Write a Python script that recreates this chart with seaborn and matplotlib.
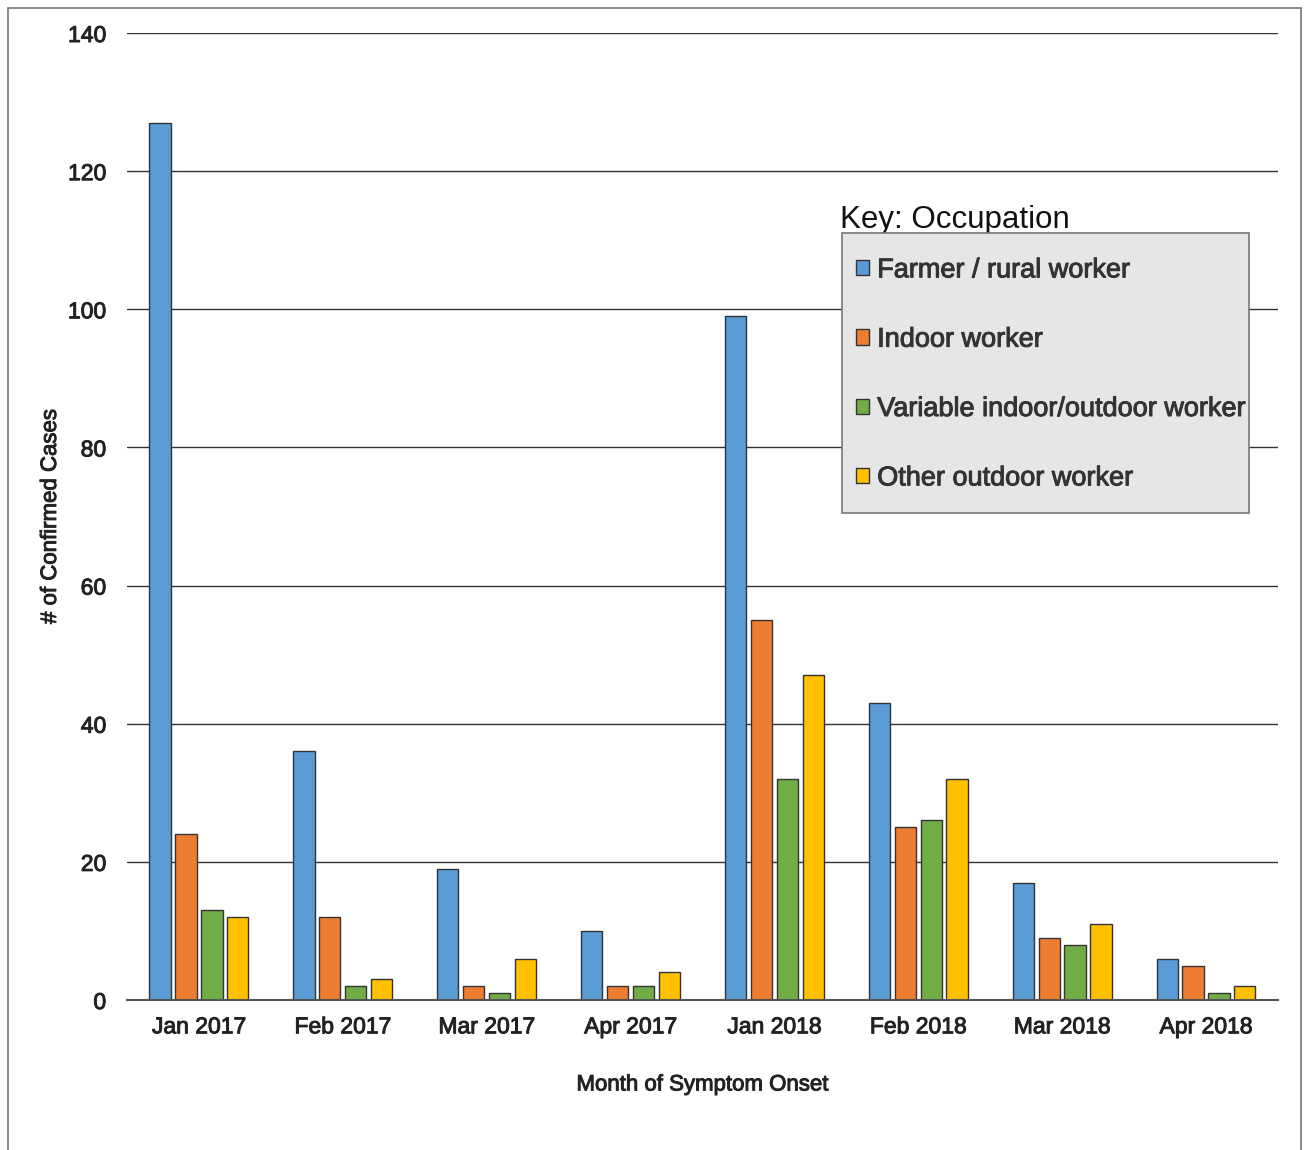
import matplotlib
matplotlib.use("Agg")
import matplotlib.pyplot as plt
import matplotlib.patches as mpatches
import matplotlib.patheffects as pe
import pandas as pd
import seaborn as sns

# data
months = ["Jan 2017", "Feb 2017", "Mar 2017", "Apr 2017",
          "Jan 2018", "Feb 2018", "Mar 2018", "Apr 2018"]
occupations = ["Farmer / rural worker", "Indoor worker",
               "Variable indoor/outdoor worker", "Other outdoor worker"]
farmer = [127, 36, 19, 10, 99, 43, 17, 6]
indoor = [24, 12, 2, 2, 55, 25, 9, 5]
variable = [13, 2, 1, 2, 32, 26, 8, 1]
other_outdoor = [12, 3, 6, 4, 47, 32, 11, 2]
colors = ["#5B9BD5", "#ED7D31", "#70AD47", "#FFC000"]

series = [farmer, indoor, variable, other_outdoor]
rows = []
for occ, vals in zip(occupations, series):
    for m, v in zip(months, vals):
        rows.append({"month": m, "occupation": occ, "cases": v})
df = pd.DataFrame(rows)

sns.set_style("white")
plt.rcParams["font.family"] = ["Liberation Sans", "DejaVu Sans"]

# slightly heavier text, like the reference
heavy = [pe.withStroke(linewidth=0.7, foreground="#222222")]

fig = plt.figure(figsize=(13.04, 11.5), dpi=100)
ax = fig.add_axes([0.0974, 0.1304, 0.8826, 0.8409])

sns.barplot(data=df, x="month", y="cases", hue="occupation", order=months,
            hue_order=occupations, palette=colors, saturation=1, width=0.72,
            gap=0.18, edgecolor="#333333", linewidth=1, ax=ax, legend=True)

ax.set_ylim(0, 140)
ax.set_yticks(range(0, 141, 20))
ax.set_xlim(-0.5, len(months) - 0.5)
ax.yaxis.grid(True, color="#333333", linewidth=1)
ax.set_axisbelow(True)
for s in ["top", "right", "left"]:
    ax.spines[s].set_visible(False)
ax.spines["bottom"].set_color("#555555")
ax.spines["bottom"].set_linewidth(1.5)
ax.tick_params(axis="both", length=0, labelsize=16.5, colors="#222222")
ax.tick_params(axis="x", pad=11)
ax.tick_params(axis="y", pad=15)
for lab in ax.get_xticklabels() + ax.get_yticklabels():
    lab.set_path_effects(heavy)

ax.set_xlabel("Month of Symptom Onset", fontsize=16, color="#222222", labelpad=26,
              path_effects=heavy)
ax.set_ylabel("# of Confirmed Cases", fontsize=16, color="#222222", labelpad=5,
              path_effects=heavy)

# legend box drawn by hand, entries placed inside it
ax.add_patch(mpatches.Rectangle((0.621, 0.5036), 0.3538, 0.2894, transform=ax.transAxes,
                                facecolor="#e6e6e6", edgecolor="#777777", linewidth=1.2,
                                zorder=4))
leg = ax.legend(loc="upper left", bbox_to_anchor=(0.633, 0.768), borderaxespad=0,
                borderpad=0, fontsize=19.5, labelspacing=1.6, handlelength=0.5,
                handleheight=0.5, handletextpad=0.3, frameon=False)
leg.set_zorder(5)
for t in leg.get_texts():
    t.set_color("#333333")
    t.set_path_effects([pe.withStroke(linewidth=0.7, foreground="#333333")])
ax.text(0.6195, 0.798, "Key: Occupation", transform=ax.transAxes, fontsize=22.5,
        color="#111111", ha="left", va="baseline")

# thin frame around the picture
fig.patches.append(mpatches.Rectangle((8 / 1304, -0.05), 1293 / 1304, 1.05 - 8 / 1150,
                                      transform=fig.transFigure, fill=False,
                                      edgecolor="#777777", linewidth=1.2))

fig.savefig("out.png", dpi=100)
